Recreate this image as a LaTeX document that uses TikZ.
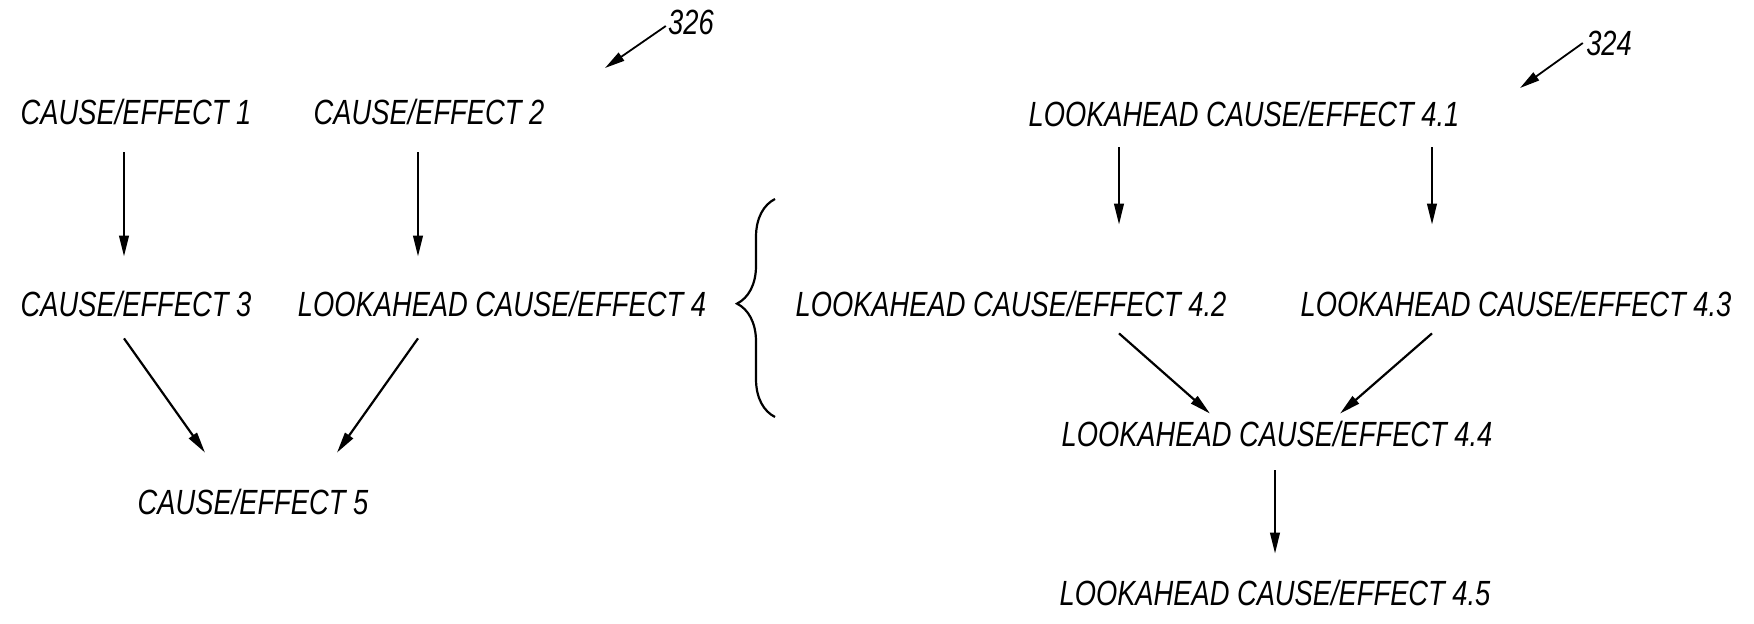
\documentclass[tikz,border=0pt]{standalone}
\usepackage{fontspec}
\newfontfamily\patfont{Liberation Sans}[FakeStretch=0.78]
\usetikzlibrary{arrows.meta,decorations.pathreplacing}

\begin{document}
\begin{tikzpicture}[x=0.5pt,y=-0.5pt,
  lbl/.style={inner sep=0pt,text height=12.6pt,text depth=0pt,
    font=\patfont\itshape\fontsize{17.5}{20}\selectfont},
  arr/.style={-{Triangle[length=10.5pt,width=4.8pt]},line width=1.1pt},
  refarr/.style={-{Triangle[length=10pt,width=4.8pt]},line width=0.9pt}]
  \useasboundingbox[fill=white] (0,0) rectangle (1754,624);

  % left tree
  \node[lbl] (ce1) at (136,112) {CAUSE/EFFECT 1};
  \node[lbl] (ce2) at (429,112) {CAUSE/EFFECT 2};
  \node[lbl] (ce3) at (136,304) {CAUSE/EFFECT 3};
  \node[lbl] (ce4) at (502,304) {LOOKAHEAD CAUSE/EFFECT 4};
  \node[lbl] (ce5) at (253,502) {CAUSE/EFFECT 5};
  \draw[arr] ([xshift=-6pt,yshift=-13.7pt]ce1.south) -- ([xshift=-6pt,yshift=17.2pt]ce3.north);
  \draw[arr] ([xshift=-5.5pt,yshift=-13.7pt]ce2.south) -- ([xshift=-42pt,yshift=17.2pt]ce4.north);
  \draw[arr] ([xshift=-6pt,yshift=-10.7pt]ce3.south) -- ([xshift=-24pt,yshift=18.2pt]ce5.north);
  \draw[arr] ([xshift=-42pt,yshift=-10.7pt]ce4.south) -- ([xshift=42pt,yshift=18.2pt]ce5.north);

  \node[lbl] (n326) at (691,22) {326};
  \coordinate (t326) at (605,68);
  \draw[refarr] ([xshift=-1pt,yshift=-2pt]n326.west) -- (t326);

  % brace
  \draw[line width=1.1pt,decorate,decoration={brace,amplitude=19pt,aspect=0.52}]
    (775,417) -- (775,199);

  % right tree
  \node[lbl] (la41) at (1244,114) {LOOKAHEAD CAUSE/EFFECT 4.1};
  \node[lbl] (la42) at (1011,304) {LOOKAHEAD CAUSE/EFFECT 4.2};
  \node[lbl] (la43) at (1516,304) {LOOKAHEAD CAUSE/EFFECT 4.3};
  \node[lbl] (la44) at (1277,434) {LOOKAHEAD CAUSE/EFFECT 4.4};
  \node[lbl] (la45) at (1275,593) {LOOKAHEAD CAUSE/EFFECT 4.5};
  \draw[arr] ([xshift=-62.5pt,yshift=-10.2pt]la41.south) -- ([xshift=54pt,yshift=33.2pt]la42.north);
  \draw[arr] ([xshift=94pt,yshift=-10.2pt]la41.south) -- ([xshift=-42pt,yshift=33.2pt]la43.north);
  \draw[arr] ([xshift=54pt,yshift=-8.2pt]la42.south) -- ([xshift=-33.5pt,yshift=3.7pt]la44.north);
  \draw[arr] ([xshift=-42pt,yshift=-8.2pt]la43.south) -- ([xshift=31.5pt,yshift=3.7pt]la44.north);
  \draw[arr] ([xshift=-1pt,yshift=-11.7pt]la44.south) -- ([yshift=13.2pt]la45.north);

  \node[lbl] (n324) at (1609,43) {324};
  \coordinate (t324) at (1520,88);
  \draw[refarr] ([xshift=-1.5pt]n324.west) -- (t324);
\end{tikzpicture}
\end{document}
